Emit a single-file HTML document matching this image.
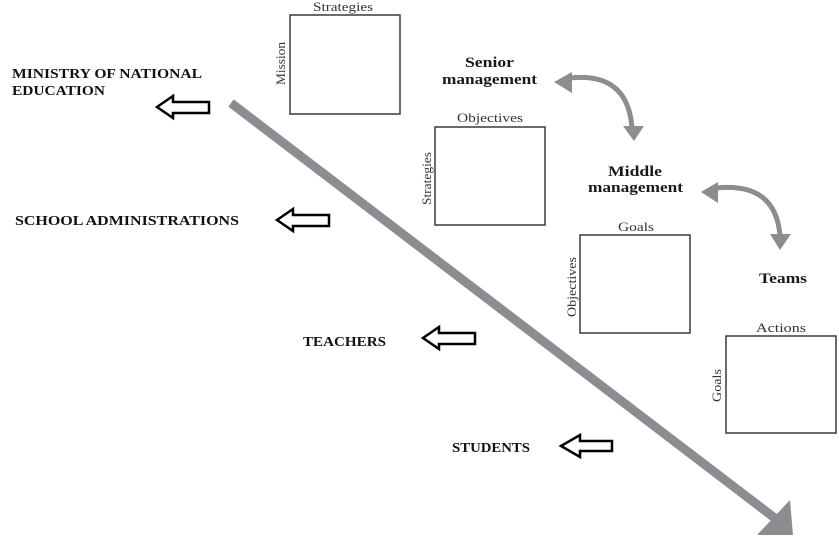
<!DOCTYPE html>
<html><head><meta charset="utf-8"><style>
html,body{margin:0;padding:0;background:#fff;}
svg{display:block;}
</style></head><body>
<svg width="839" height="547" viewBox="0 0 839 547" xmlns="http://www.w3.org/2000/svg">
<rect width="839" height="547" fill="#fff"/>
<!-- boxes -->
<g fill="none" stroke="#3a3a3a" stroke-width="1.5">
<rect x="290" y="15" width="110" height="99"/>
<rect x="435" y="127" width="110" height="98"/>
<rect x="580" y="235" width="110" height="98"/>
<rect x="726" y="336" width="110" height="97"/>
</g>
<!-- small labels -->
<g font-family="Liberation Serif, serif" font-size="13" fill="#333">
<text x="313" y="11" textLength="60" lengthAdjust="spacingAndGlyphs">Strategies</text>
<text transform="translate(285,85) rotate(-90)" textLength="43" lengthAdjust="spacingAndGlyphs">Mission</text>
<text x="457" y="122" textLength="66" lengthAdjust="spacingAndGlyphs">Objectives</text>
<text transform="translate(431,205) rotate(-90)" textLength="53" lengthAdjust="spacingAndGlyphs">Strategies</text>
<text x="618" y="231" textLength="36" lengthAdjust="spacingAndGlyphs">Goals</text>
<text transform="translate(576,317) rotate(-90)" textLength="60" lengthAdjust="spacingAndGlyphs">Objectives</text>
<text x="756" y="332" textLength="50" lengthAdjust="spacingAndGlyphs">Actions</text>
<text transform="translate(721,402) rotate(-90)" textLength="33" lengthAdjust="spacingAndGlyphs">Goals</text>
</g>
<!-- management labels -->
<g font-family="Liberation Serif, serif" font-size="15" font-weight="bold" fill="#1a1a1a">
<text x="465" y="67" textLength="49" lengthAdjust="spacingAndGlyphs">Senior</text>
<text x="442" y="84" textLength="95" lengthAdjust="spacingAndGlyphs">management</text>
<text x="608" y="176" textLength="54" lengthAdjust="spacingAndGlyphs">Middle</text>
<text x="588" y="192" textLength="95" lengthAdjust="spacingAndGlyphs">management</text>
<text x="759" y="283" textLength="48" lengthAdjust="spacingAndGlyphs">Teams</text>
</g>
<!-- left labels -->
<g font-family="Liberation Serif, serif" font-size="14" font-weight="bold" fill="#111">
<text x="12" y="78" textLength="190" lengthAdjust="spacingAndGlyphs">MINISTRY OF NATIONAL</text>
<text x="12" y="95" textLength="93" lengthAdjust="spacingAndGlyphs">EDUCATION</text>
<text x="15" y="225" textLength="224" lengthAdjust="spacingAndGlyphs">SCHOOL ADMINISTRATIONS</text>
<text x="303" y="346" textLength="83" lengthAdjust="spacingAndGlyphs">TEACHERS</text>
<text x="452" y="452" textLength="78" lengthAdjust="spacingAndGlyphs">STUDENTS</text>
</g>
<!-- hollow arrows -->
<g fill="#fff" stroke="#000" stroke-width="2.5" stroke-linejoin="miter">
<polygon points="157,107 173,96 173,102 209,102 209,113 173,113 173,118"/>
<polygon points="277,220 293,209 293,215 329,215 329,226 293,226 293,231"/>
<polygon points="423,338 439,327 439,333 475,333 475,344 439,344 439,349"/>
<polygon points="561,446 580,435 580,441 612,441 612,451 580,451 580,457"/>
</g>
<!-- big diagonal arrow -->
<line x1="231" y1="103" x2="776" y2="519" stroke="#8c8d90" stroke-width="9"/>
<polygon points="790,500 793,535 757,535" fill="#8c8d90"/>
<!-- curved arrows -->
<g fill="none" stroke="#8c8d90" stroke-width="5">
<path d="M570,78 Q628,72 632,128"/>
<path d="M716,188 Q776,182 780,236"/>
</g>
<g fill="#8c8d90">
<polygon points="554,82 572,72 572,93"/>
<polygon points="623,126 644,126 634,141"/>
<polygon points="701,192 718,182 718,203"/>
<polygon points="770,234 791,234 780,250"/>
</g>
</svg>
</body></html>
